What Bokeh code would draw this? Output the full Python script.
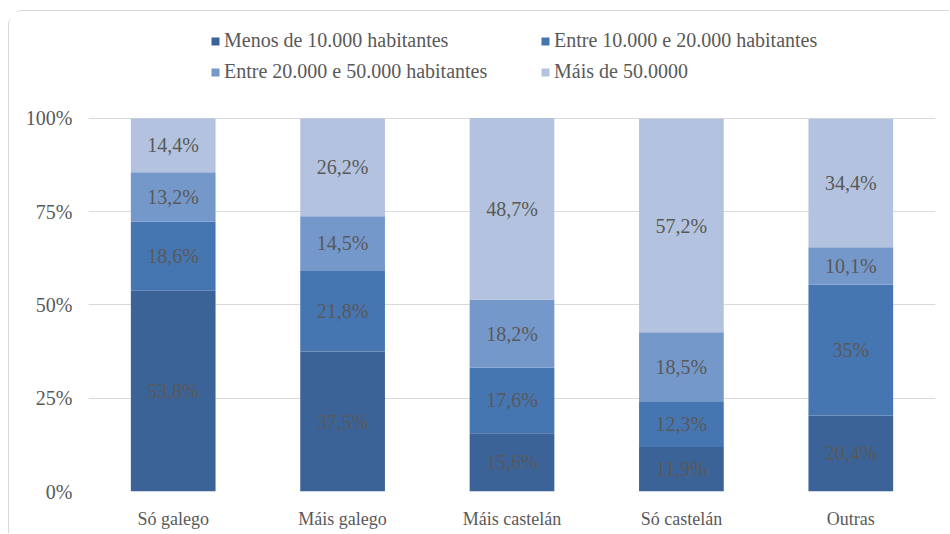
from bokeh.plotting import figure
from bokeh.models import (ColumnDataSource, FactorRange, Range1d, Legend, LegendItem,
                          NumeralTickFormatter, FixedTicker, LabelSet)
from bokeh.embed import file_html
from bokeh.resources import INLINE

categories = ["Só galego", "Máis galego", "Máis castelán", "Só castelán", "Outras"]
series_names = ["Menos de 10.000 habitantes", "Entre 10.000 e 20.000 habitantes",
                "Entre 20.000 e 50.000 habitantes", "Máis de 50.0000"]
menos_10k = [53.8, 37.5, 15.6, 11.9, 20.4]
entre_10_20k = [18.6, 21.8, 17.6, 12.3, 35.0]
entre_20_50k = [13.2, 14.5, 18.2, 18.5, 10.1]
mais_50k = [14.4, 26.2, 48.7, 57.2, 34.4]
label_texts = [
    ["53,8%", "37,5%", "15,6%", "11,9%", "20,4%"],
    ["18,6%", "21,8%", "17,6%", "12,3%", "35%"],
    ["13,2%", "14,5%", "18,2%", "18,5%", "10,1%"],
    ["14,4%", "26,2%", "48,7%", "57,2%", "34,4%"],
]
y_ticks = [0, 0.25, 0.5, 0.75, 1.0]
colors = ["#3b6397", "#4676b1", "#7598cb", "#b3c3df"]
FONT = "Liberation Serif"
TXT = "#595959"

series = [menos_10k, entre_10_20k, entre_20_50k, mais_50k]
keys = ["s0", "s1", "s2", "s3"]
data = {"cat": categories}
for k, s in zip(keys, series):
    data[k] = [v / 100.0 for v in s]
source = ColumnDataSource(data)

# y range extended upward (invisible) so that the legend sits inside the frame
p = figure(width=941, height=523, x_range=FactorRange(*categories, range_padding=0),
           y_range=Range1d(0, 1.268), output_backend="svg", toolbar_location=None,
           min_border_left=79, min_border_right=15, min_border_top=7, min_border_bottom=43)
p.styles = {"margin-left": "8px", "margin-top": "10px",
            "border-left": "1px solid #d9d9d9", "border-top": "1px solid #d9d9d9",
            "border-top-left-radius": "15px"}
p.outline_line_color = None
p.background_fill_color = "white"

renderers = p.vbar_stack(keys, x="cat", width=0.5, color=colors, source=source,
                         line_color=None)

# segment labels
lx, ly, lt = [], [], []
for i, c in enumerate(categories):
    base = 0.0
    for j, s in enumerate(series):
        v = s[i] / 100.0
        lx.append(c)
        ly.append(base + v / 2)
        lt.append(label_texts[j][i])
        base += v
lsrc = ColumnDataSource(dict(x=lx, y=ly, t=lt))
labels = LabelSet(x="x", y="y", text="t", source=lsrc, text_align="center",
                  text_baseline="middle", text_font=FONT, text_font_size="20px",
                  text_color=TXT)
p.add_layout(labels)

# axes
p.yaxis.ticker = FixedTicker(ticks=y_ticks)
p.yaxis.formatter = NumeralTickFormatter(format="0%")
for ax in (p.xaxis[0], p.yaxis[0]):
    ax.axis_line_color = None
    ax.major_tick_line_color = None
    ax.minor_tick_line_color = None
    ax.major_tick_out = 0
    ax.major_tick_in = 0
    ax.major_label_text_font = FONT
    ax.major_label_text_color = TXT
p.xaxis.major_label_text_font_size = "18px"
p.yaxis.major_label_text_font_size = "20px"
p.yaxis.major_label_standoff = 16
p.xaxis.major_label_standoff = 17
p.xgrid.grid_line_color = None
p.ygrid.grid_line_color = "#d9d9d9"

# legend, two rows
def make_legend(items, vy):
    return Legend(items=items, orientation="horizontal", location=(122, vy),
                  glyph_width=10, glyph_height=10, label_height=20, label_width=316,
                  label_standoff=4, spacing=0, padding=0, margin=0,
                  border_line_color=None, background_fill_alpha=0,
                  label_text_font=FONT, label_text_font_size="20px",
                  label_text_color=TXT)

items = [LegendItem(label=n, renderers=[r]) for n, r in zip(series_names, renderers)]
p.add_layout(make_legend(items[:2], 439), "center")
p.add_layout(make_legend(items[2:], 408), "center")

open("out.html", "w").write(file_html(p, INLINE))
